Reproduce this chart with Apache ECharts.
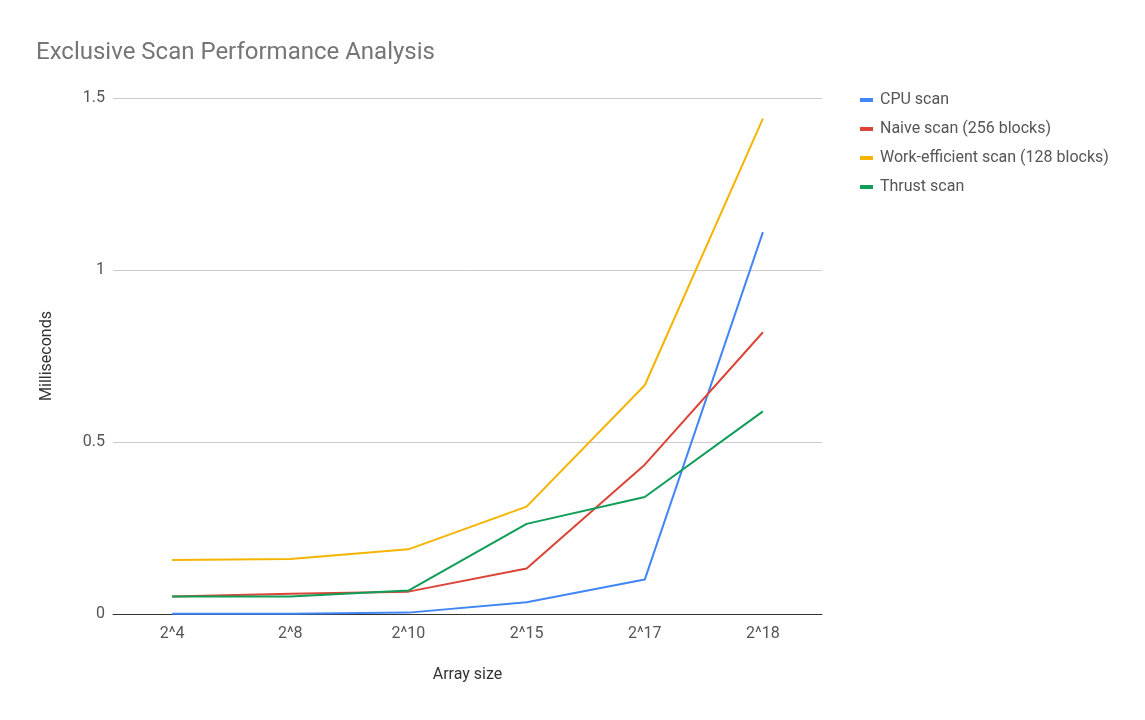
<!DOCTYPE html>
<html>
<head>
<meta charset="utf-8">
<script src="https://cdn.jsdelivr.net/npm/echarts@6/dist/echarts.min.js"></script>
<style>
  html, body { margin: 0; padding: 0; background: #fff; }
  #chart { width: 1145px; height: 720px; }
</style>
</head>
<body>
<div id="chart"></div>
<script>
var sizes = ['2^4', '2^8', '2^10', '2^15', '2^17', '2^18'];
var cpuScan = [0.001, 0.001, 0.004, 0.034, 0.1, 1.11];
var naiveScan = [0.051, 0.059, 0.065, 0.132, 0.434, 0.819];
var workEfficientScan = [0.157, 0.16, 0.188, 0.312, 0.665, 1.44];
var thrustScan = [0.051, 0.051, 0.068, 0.262, 0.34, 0.589];
var yTicks = [0, 0.5, 1, 1.5];

var chart = echarts.init(document.getElementById('chart'));

function line(name, data, color) {
  return {
    name: name,
    type: 'line',
    data: data,
    symbol: 'none',
    lineStyle: { width: 2, color: color },
    itemStyle: { color: color }
  };
}

var option = {
  backgroundColor: '#ffffff',
  animation: false,
  textStyle: { fontFamily: 'Roboto' },
  title: {
    text: 'Exclusive Scan Performance Analysis',
    left: 31,
    top: 36,
    textStyle: { fontSize: 24, fontWeight: 'normal', color: '#757575', fontFamily: 'Roboto' }
  },
  legend: {
    orient: 'vertical',
    left: 855,
    top: 87,
    itemGap: 13,
    itemWidth: 13,
    itemHeight: 4,
    icon: 'rect',
    textStyle: { fontSize: 16, color: '#555555', fontFamily: 'Roboto', padding: [0, 0, 0, 2] },
    data: ['CPU scan', 'Naive scan (256 blocks)', 'Work-efficient scan (128 blocks)', 'Thrust scan']
  },
  grid: { left: 113, right: 323, top: 98, bottom: 106, containLabel: false },
  xAxis: {
    type: 'category',
    data: sizes,
    name: 'Array size',
    nameLocation: 'middle',
    nameGap: 53,
    nameTextStyle: { fontSize: 16, color: '#333333' },
    axisLine: { lineStyle: { color: '#333333', width: 1 } },
    axisTick: { show: false },
    axisLabel: { fontSize: 16, color: '#555555', margin: 12 }
  },
  yAxis: {
    type: 'value',
    min: yTicks[0],
    max: yTicks[yTicks.length - 1],
    interval: 0.5,
    name: 'Milliseconds',
    nameLocation: 'middle',
    nameGap: 58,
    nameRotate: 90,
    nameTextStyle: { fontSize: 16, color: '#333333' },
    axisLine: { show: false },
    axisTick: { show: false },
    axisLabel: { fontSize: 16, color: '#555555', margin: 8 },
    splitLine: { lineStyle: { color: '#cccccc', width: 1 } }
  },
  series: [
    line('CPU scan', cpuScan, '#4285f4'),
    line('Naive scan (256 blocks)', naiveScan, '#db4437'),
    line('Work-efficient scan (128 blocks)', workEfficientScan, '#f4b400'),
    line('Thrust scan', thrustScan, '#0f9d58')
  ]
};

chart.setOption(option);
</script>
</body>
</html>
